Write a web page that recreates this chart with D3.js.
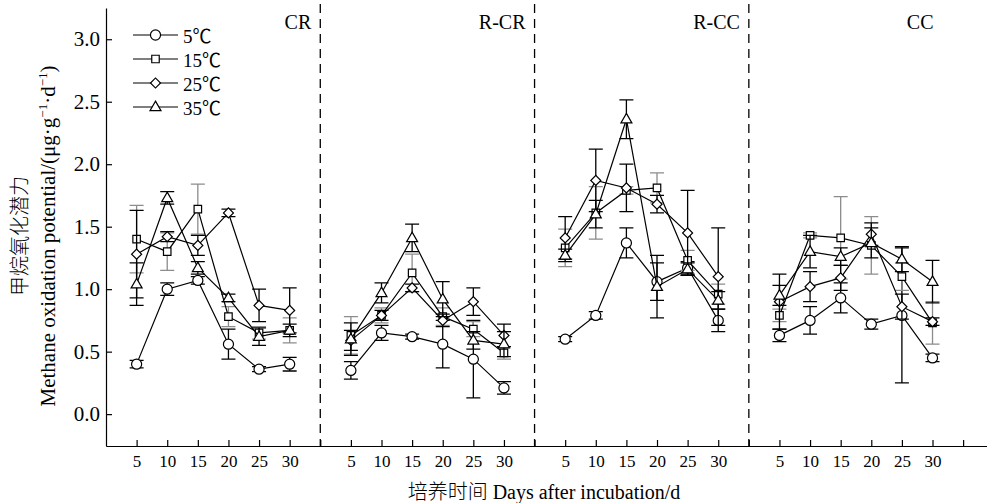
<!DOCTYPE html>
<html>
<head>
<meta charset="utf-8">
<script src="https://cdn.jsdelivr.net/npm/d3@7"></script>
<style>
body { margin: 0; background: #fff; }
text { font-family: "Liberation Serif", "Times New Roman", "Noto Sans CJK SC", serif; fill: #000; }
</style>
</head>
<body>
<script>
// ---- data ----
var days = [5, 10, 15, 20, 25, 30];
var panels = ["CR", "R-CR", "R-CC", "CC"];
var temps = ["5℃", "15℃", "25℃", "35℃"];
var yTicks = [0, 0.5, 1.0, 1.5, 2.0, 2.5, 3.0];

// one row per panel: CR, R-CR, R-CC, CC
var mean5 = [
    [0.40, 1.00, 1.07, 0.56, 0.36, 0.40],
    [0.35, 0.65, 0.62, 0.56, 0.44, 0.21],
    [0.60, 0.79, 1.37, 1.06, 1.17, 0.75],
    [0.63, 0.75, 0.93, 0.72, 0.79, 0.45]
];
var err5 = [
    [0.03, 0.05, 0.03, 0.12, 0.02, 0.055],
    [0.07, 0.06, 0.02, 0.19, 0.31, 0.05],
    [0.02, 0.03, 0.12, 0.15, 0.05, 0.09],
    [0.05, 0.11, 0.12, 0.04, 0.54, 0.03]
];
var mean15 = [
    [1.40, 1.30, 1.64, 0.78, 0.65, 0.67],
    [0.63, 0.79, 1.13, 0.78, 0.68, 0.49],
    [1.33, 1.61, 1.79, 1.81, 1.23, 0.96],
    [0.79, 1.43, 1.41, 1.35, 1.10, 0.73]
];
var err15 = [
    [0.27, 0.15, 0.20, 0.08, 0.05, 0.10],
    [0.15, 0.06, 0.15, 0.07, 0.06, 0.05],
    [0.15, 0.21, 0.03, 0.12, 0.08, 0.08],
    [0.05, 0.02, 0.33, 0.23, 0.11, 0.17]
];
var mean25 = [
    [1.28, 1.42, 1.35, 1.61, 0.87, 0.83],
    [0.59, 0.79, 1.01, 0.75, 0.90, 0.63],
    [1.41, 1.87, 1.81, 1.68, 1.45, 1.10],
    [0.90, 1.02, 1.09, 1.44, 0.86, 0.74]
];
var err25 = [
    [0.35, 0.04, 0.08, 0.03, 0.13, 0.18],
    [0.08, 0.04, 0.03, 0.05, 0.11, 0.09],
    [0.17, 0.25, 0.19, 0.07, 0.34, 0.39],
    [0.22, 0.12, 0.10, 0.09, 0.10, 0.03]
];
var mean35 = [
    [1.04, 1.73, 1.17, 0.93, 0.62, 0.67],
    [0.60, 0.97, 1.41, 0.92, 0.59, 0.56],
    [1.27, 1.60, 2.36, 1.02, 1.16, 0.91],
    [0.95, 1.30, 1.26, 1.37, 1.24, 1.06]
];
var err35 = [
    [0.17, 0.05, 0.05, 0.03, 0.07, 0.05],
    [0.13, 0.08, 0.11, 0.14, 0.07, 0.10],
    [0.05, 0.11, 0.155, 0.25, 0.05, 0.07],
    [0.08, 0.13, 0.07, 0.12, 0.10, 0.17]
];

var series = [
    {name: temps[0], mean: mean5, err: err5, shape: "circle", errColor: "#000"},
    {name: temps[1], mean: mean15, err: err15, shape: "square", errColor: "#8c8c8c"},
    {name: temps[2], mean: mean25, err: err25, shape: "diamond", errColor: "#000"},
    {name: temps[3], mean: mean35, err: err35, shape: "triangle", errColor: "#000"}
];

// ---- layout ----
var svgWidth = 987;
var svgHeight = 503;
var axisLeft = 106;
var axisBottom = 446;
var slotsPerPanel = 7;   // 6 sampling days + 1 gap slot with the divider

var svg = d3.select("body")
    .append("svg")
    .attr("width", svgWidth)
    .attr("height", svgHeight);

// continuous slot scale: panel p, day d -> p*7 + d/5
var x = d3.scaleLinear()
    .domain([0, 28.78])
    .range([axisLeft, svgWidth]);

var y = d3.scaleLinear()
    .domain([-0.255, 3.25])
    .range([axisBottom, 8]);

function slot(p, i) {
    return p * slotsPerPanel + (i + 1);
}

// ---- axes ----
var bottomAxis = d3.axisBottom(x)
    .tickValues(d3.range(1, 29))
    .tickSizeInner(-6)
    .tickSizeOuter(0)
    .tickPadding(9)
    .tickFormat(v => v % slotsPerPanel == 0 ? "" : days[(v % slotsPerPanel) - 1]);

var xAxisGroup = svg.append("g")
    .attr("transform", `translate(0, ${axisBottom})`)
    .call(bottomAxis);
xAxisGroup.selectAll("text").style("font-size", "17px");

var leftAxis = d3.axisLeft(y)
    .tickValues(yTicks)
    .tickSizeInner(-6)
    .tickSizeOuter(0)
    .tickPadding(6)
    .tickFormat(d3.format(".1f"));

var yAxisGroup = svg.append("g")
    .attr("transform", `translate(${axisLeft}, 0)`)
    .call(leftAxis);
yAxisGroup.selectAll("text").style("font-size", "21px");

svg.selectAll(".domain, .tick line")
    .attr("stroke", "#000")
    .attr("stroke-width", 1.2);

// ---- panel dividers and labels ----
svg.selectAll(".divider")
    .data([1, 2, 3])
    .enter()
    .append("line")
    .classed("divider", true)
    .attr("x1", p => x(p * slotsPerPanel))
    .attr("x2", p => x(p * slotsPerPanel))
    .attr("y1", 4)
    .attr("y2", axisBottom)
    .attr("stroke", "#000")
    .attr("stroke-width", 1.3)
    .attr("stroke-dasharray", "9,6");

svg.selectAll(".panelLabel")
    .data(panels)
    .enter()
    .append("text")
    .classed("panelLabel", true)
    .attr("x", (d, p) => p < 3 ? x((p + 1) * slotsPerPanel) - 9 : x(slot(p, 5)) + 1)
    .attr("y", 29)
    .attr("text-anchor", "end")
    .style("font-size", "20px")
    .text(d => d);

// ---- markers ----
var symbolSize = {circle: 80, square: 56, diamond: 50, triangle: 52};

function drawMarker(g, shape, cx, cy) {
    var type = {circle: d3.symbolCircle, square: d3.symbolSquare,
                diamond: d3.symbolSquare, triangle: d3.symbolTriangle}[shape];
    var rot = shape == "diamond" ? " rotate(45)" : "";
    var dy = shape == "triangle" ? 0.5 : 0;
    g.append("path")
        .attr("d", d3.symbol().type(type).size(symbolSize[shape])())
        .attr("transform", `translate(${cx},${cy + dy})${rot}`)
        .attr("fill", "#fff")
        .attr("stroke", "#000")
        .attr("stroke-width", 1.2);
}

var line = d3.line()
    .x(d => x(d.s))
    .y(d => y(d.v));

series.forEach(s => {
    var g = svg.append("g");
    panels.forEach((pName, p) => {
        var pts = days.map((d, i) => ({s: slot(p, i), v: s.mean[p][i], e: s.err[p][i]}));

        // error bars
        pts.forEach(pt => {
            var cx = x(pt.s);
            var y1 = y(pt.v + pt.e);
            var y2 = y(pt.v - pt.e);
            g.append("path")
                .attr("d", `M${cx},${y1}V${y2}M${cx - 7},${y1}H${cx + 7}M${cx - 7},${y2}H${cx + 7}`)
                .attr("fill", "none")
                .attr("stroke", s.errColor)
                .attr("stroke-width", 1.3);
        });

        g.append("path")
            .datum(pts)
            .attr("d", line)
            .attr("fill", "none")
            .attr("stroke", "#000")
            .attr("stroke-width", 1.2);

        pts.forEach(pt => drawMarker(g, s.shape, x(pt.s), y(pt.v)));
    });
});

// ---- legend ----
var legend = svg.append("g");
series.forEach((s, i) => {
    var ly = 35 + i * 24;
    legend.append("line")
        .attr("x1", 133).attr("x2", 178)
        .attr("y1", ly).attr("y2", ly)
        .attr("stroke", "#000")
        .attr("stroke-width", 1.2);
    drawMarker(legend, s.shape, 155.5, ly);
    legend.append("text")
        .attr("x", 183)
        .attr("y", ly + 8)
        .style("font-size", "19px")
        .text(s.name);
});

// ---- axis titles ----
svg.append("text")
    .attr("transform", "translate(27, 236) rotate(-90)")
    .attr("text-anchor", "middle")
    .style("font-size", "20px")
    .style("font-weight", 300)
    .text("甲烷氧化潜力");

var yTitle = svg.append("text")
    .attr("transform", "translate(55, 236) rotate(-90)")
    .attr("text-anchor", "middle")
    .style("font-size", "21px");
yTitle.append("tspan").text("Methane oxidation potential/(μg·g");
yTitle.append("tspan").attr("dy", -8).style("font-size", "13px").text("−1");
yTitle.append("tspan").attr("dy", 8).text("·d");
yTitle.append("tspan").attr("dy", -8).style("font-size", "13px").text("−1");
yTitle.append("tspan").attr("dy", 8).text(")");

svg.append("text")
    .attr("x", 544)
    .attr("y", 499)
    .attr("text-anchor", "middle")
    .style("font-size", "20px")
    .style("font-weight", 300)
    .text("培养时间 Days after incubation/d");
</script>
</body>
</html>
